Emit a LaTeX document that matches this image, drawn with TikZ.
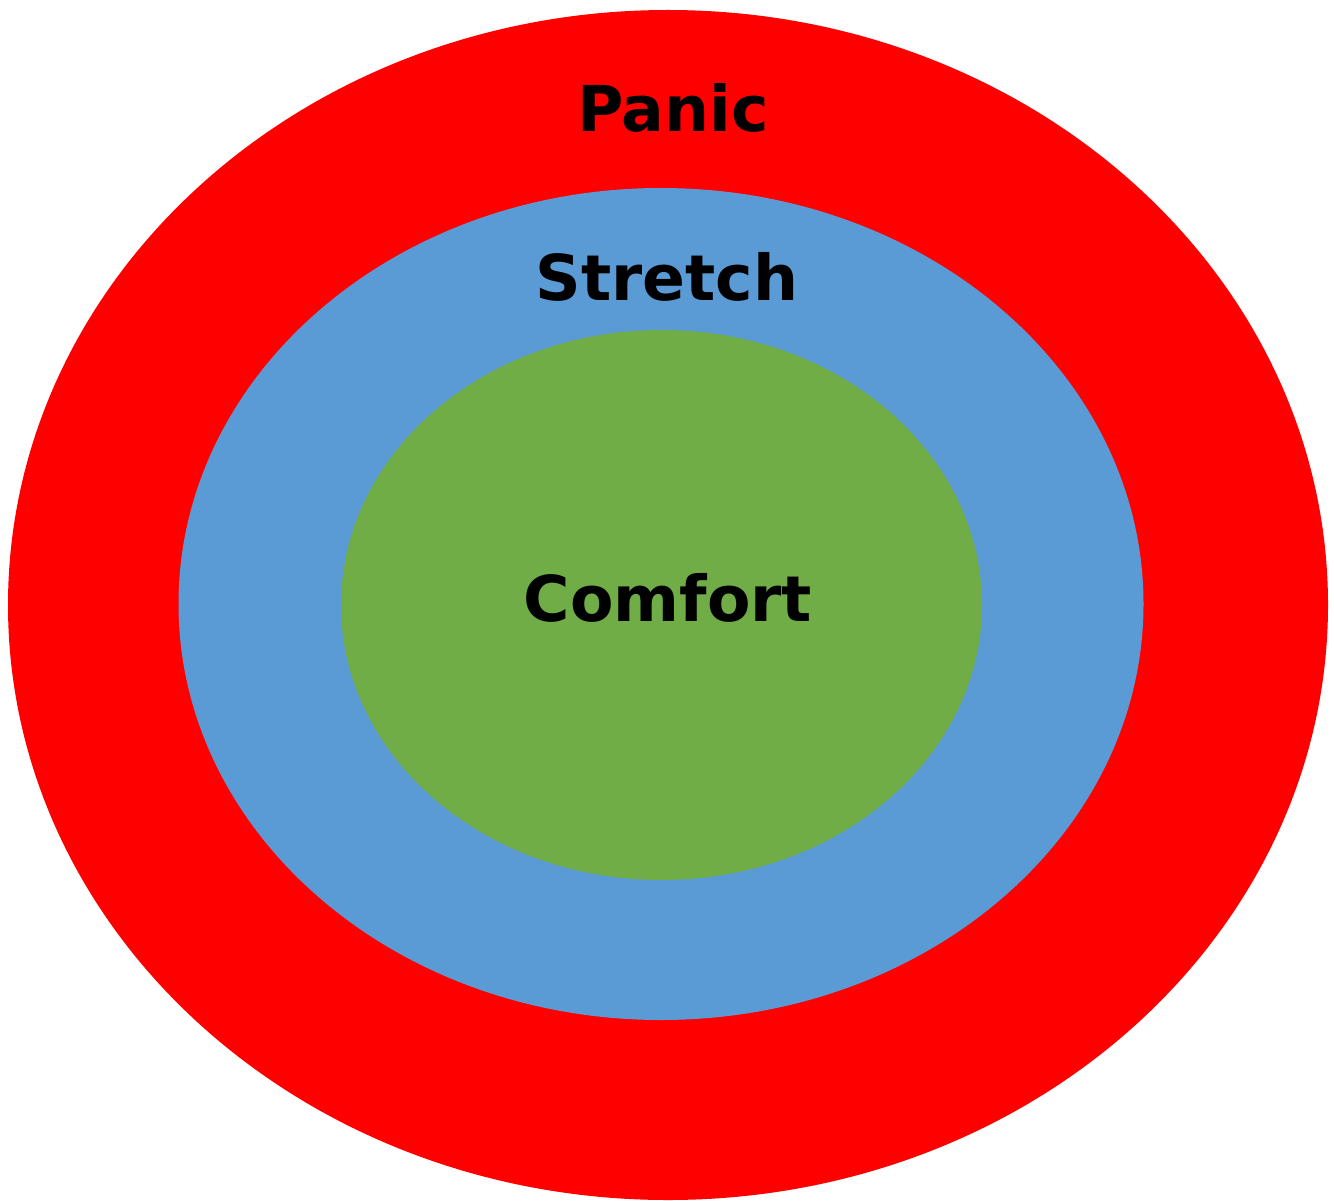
\documentclass[tikz,border=0pt]{standalone}
\usepackage{fontspec}
\setmainfont{DejaVu Sans}
\usetikzlibrary{shapes.geometric}

\definecolor{panicred}{HTML}{FF0000}
\definecolor{stretchblue}{HTML}{5B9BD5}
\definecolor{comfortgreen}{HTML}{70AD47}

\begin{document}
\begin{tikzpicture}[
  zone/.style={ellipse, draw=none, inner sep=0pt},
  zonelabel/.style={font=\fontsize{18}{22}\selectfont\bfseries, text=black}
]
\useasboundingbox (0,0) rectangle (13.34,12);
% === Zones, outer to inner ===
\node[zone, fill=panicred, minimum width=13.2cm, minimum height=11.9cm] (panic) at (6.68,5.95) {};
\node[zone, fill=stretchblue, minimum width=9.65cm, minimum height=8.32cm] (stretch) at (6.61,5.96) {};
\node[zone, fill=comfortgreen, minimum width=6.41cm, minimum height=5.5cm] (comfort) at (6.615,5.95) {};
% === Labels ===
\node[zonelabel] (panictext) at (6.73,10.92) {Panic};
\node[zonelabel] (stretchtext) at (6.67,9.23) {Stretch};
\node[zonelabel] (comforttext) at (6.68,6.02) {Comfort};
\end{tikzpicture}
\end{document}
